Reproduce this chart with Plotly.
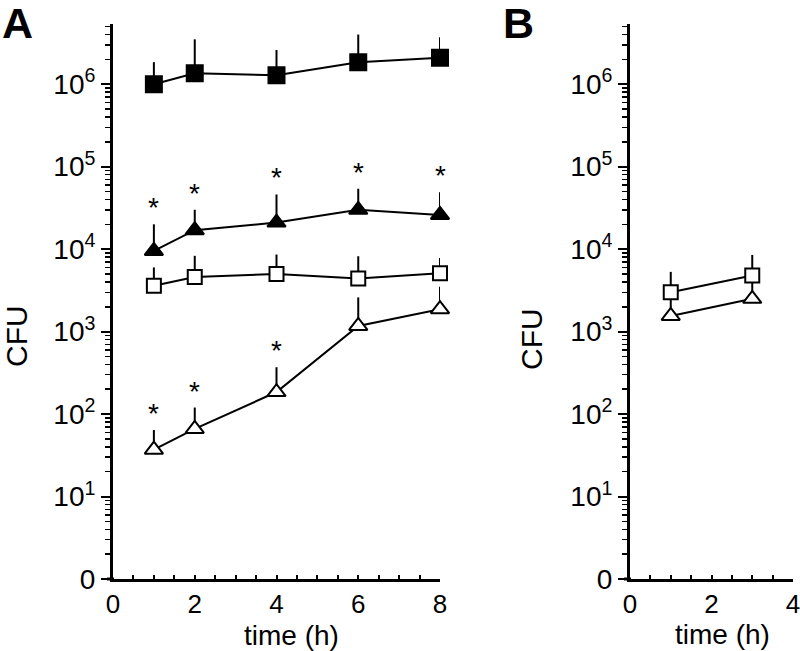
import math
import plotly.graph_objects as go

# ---------------- data ----------------
time_A = [1, 2, 4, 6, 8]
filled_sq = [1.0e6, 1.36e6, 1.28e6, 1.85e6, 2.1e6]
filled_sq_top = [1.85e6, 3.5e6, 2.6e6, 4.0e6, 3.7e6]
filled_tri = [9.5e3, 1.7e4, 2.1e4, 3.0e4, 2.6e4]
filled_tri_top = [2.0e4, 3.0e4, 4.6e4, 5.4e4, 4.9e4]
open_sq = [3.6e3, 4.6e3, 5.0e3, 4.4e3, 5.1e3]
open_sq_top = [6.0e3, 8.3e3, 8.6e3, 8.2e3, 7.8e3]
open_tri = [37, 66, 185, 1170, 1870]
open_tri_top = [64, 120, 370, 2600, 3500]
sig_filled_tri = [1, 1, 1, 1, 1]
sig_open_tri = [1, 1, 1, 0, 0]

time_B = [1, 3]
open_sq_B = [3.0e3, 4.8e3]
open_sq_B_top = [5.3e3, 8.5e3]
open_tri_B = [1.55e3, 2.5e3]
open_tri_B_top = [2.8e3, 4.2e3]

ytick_vals = [1, 10, 100, 1e3, 1e4, 1e5, 1e6]
ytick_text = ["0", "10<sup>1</sup>", "10<sup>2</sup>", "10<sup>3</sup>",
              "10<sup>4</sup>", "10<sup>5</sup>", "10<sup>6</sup>"]

FONT = "Liberation Sans, Arial, Helvetica, sans-serif"
W, H = 800, 651


def px(x):
    return x / W


def py(y):
    return 1 - y / H


minor_vals = [k * 10 ** d for d in range(0, 7) for k in range(2, 10)]


def up(vals, tops):
    return [t - v for v, t in zip(vals, tops)]


fig = go.Figure()


def add_series(x, y, top, symbol, fill, size, xa, ya):
    fig.add_trace(go.Scatter(
        x=x, y=y, mode="lines+markers", xaxis=xa, yaxis=ya,
        line=dict(color="black", width=2),
        marker=dict(symbol=symbol, size=size, color=fill,
                    line=dict(color="black", width=2)),
        error_y=dict(type="data", symmetric=False, array=up(y, top),
                     arrayminus=[0] * len(y), width=0, thickness=2,
                     color="black"),
        showlegend=False, cliponaxis=False, hoverinfo="skip",
    ))


# Panel A
add_series(time_A, open_tri, open_tri_top, "triangle-up", "white", 16, "x", "y")
add_series(time_A, open_sq, open_sq_top, "square", "white", 14, "x", "y")
add_series(time_A, filled_tri, filled_tri_top, "triangle-up", "black", 16, "x", "y")
add_series(time_A, filled_sq, filled_sq_top, "square", "black", 16, "x", "y")
# Panel B
add_series(time_B, open_tri_B, open_tri_B_top, "triangle-up", "white", 16, "x2", "y2")
add_series(time_B, open_sq_B, open_sq_B_top, "square", "white", 14, "x2", "y2")

annotations = []
for xs, tops, sig in [(time_A, filled_tri_top, sig_filled_tri),
                      (time_A, open_tri_top, sig_open_tri)]:
    for xv, tv, s in zip(xs, tops, sig):
        if s:
            annotations.append(dict(x=xv, y=math.log10(tv), xref="x", yref="y",
                                    yanchor="bottom", text="*", showarrow=False,
                                    yshift=-1,
                                    font=dict(family=FONT, size=28, color="black")))

# panel letters / titles
for txt, x, y in [("A", 17, 23), ("B", 518, 23)]:
    annotations.append(dict(x=px(x), y=py(y), xref="paper", yref="paper",
                            text="<b>%s</b>" % txt, showarrow=False,
                            xanchor="center", yanchor="middle",
                            font=dict(family=FONT, size=43, color="black")))
for x, y in [(16, 336), (531, 339)]:
    annotations.append(dict(x=px(x), y=py(y), xref="paper", yref="paper",
                            text="CFU", showarrow=False, textangle=-90,
                            xanchor="center", yanchor="middle",
                            font=dict(family=FONT, size=30, color="black")))
for x, y in [(291, 635), (722, 634)]:
    annotations.append(dict(x=px(x), y=py(y), xref="paper", yref="paper",
                            text="time (h)", showarrow=False,
                            xanchor="center", yanchor="middle",
                            font=dict(family=FONT, size=28, color="black")))

ydom = [py(579), py(24)]
yaxis_common = dict(
    type="log", range=[0, 6.73], domain=ydom, automargin=False,
    tickmode="array", tickvals=ytick_vals, ticktext=ytick_text,
    ticks="outside", ticklen=9, tickwidth=2, tickcolor="black",
    minor=dict(tickmode="array", tickvals=minor_vals, ticks="outside",
               ticklen=5, tickwidth=1.5, tickcolor="black"),
    showline=True, linewidth=3, linecolor="black", showgrid=False,
    zeroline=False, tickfont=dict(family=FONT, size=28, color="black"),
    ticklabeloverflow="allow", fixedrange=True,
)
xaxis_common = dict(
    ticks="inside", ticklen=4, tickwidth=2, tickcolor="black", dtick=2,
    automargin=False,
    minor=dict(dtick=0.5, ticks="inside", ticklen=4, tickwidth=2, tickcolor="black"),
    showline=True, linewidth=3, linecolor="black", showgrid=False,
    zeroline=False, tickfont=dict(family=FONT, size=26, color="black"),
    ticklabeloverflow="allow", fixedrange=True,
)

fig.update_layout(
    width=W, height=H, margin=dict(l=0, r=0, t=0, b=0, autoexpand=False),
    paper_bgcolor="white", plot_bgcolor="white", hovermode=False,
    xaxis=dict(xaxis_common, domain=[px(113), px(440)], range=[0, 8], anchor="y", tick0=0),
    xaxis2=dict(xaxis_common, domain=[px(630), px(793)], range=[0, 4], anchor="y2", tick0=0),
    yaxis=dict(yaxis_common, anchor="x"),
    yaxis2=dict(yaxis_common, anchor="x2"),
    annotations=annotations,
    shapes=[
        dict(type="line", xref="paper", yref="paper", x0=px(107), x1=px(114),
             y0=py(579), y1=py(579), line=dict(color="black", width=3)),
        dict(type="line", xref="paper", yref="paper", x0=px(624), x1=px(631),
             y0=py(579), y1=py(579), line=dict(color="black", width=3)),
    ],
)

fig.write_html("out.html",
               config={"displayModeBar": False, "staticPlot": True},
               post_script="document.body.style.margin='0px';"
                           "document.body.style.overflow='hidden';")
